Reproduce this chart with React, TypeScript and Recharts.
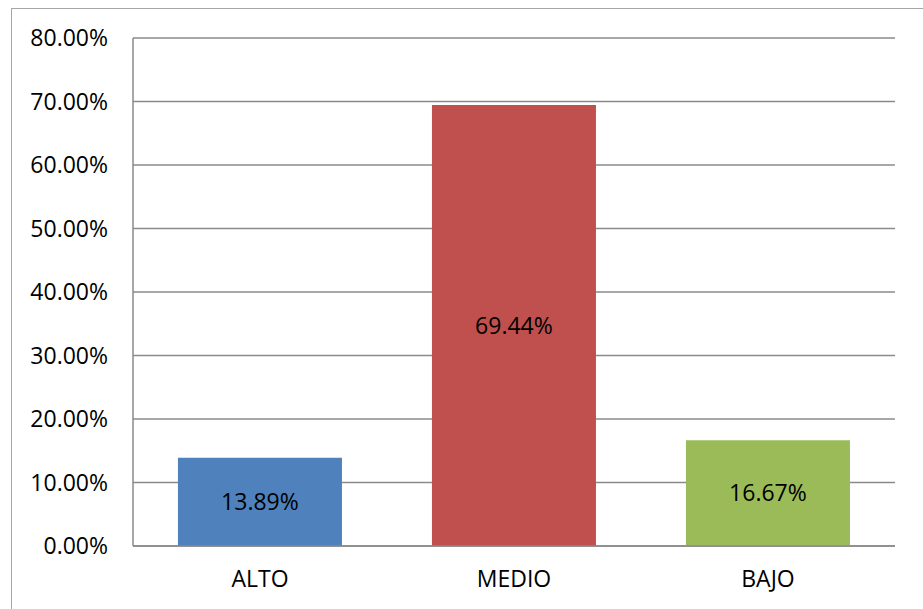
import React from 'react';
import { BarChart, Bar, XAxis, YAxis, CartesianGrid, Cell, LabelList } from 'recharts';

const categories = ['ALTO', 'MEDIO', 'BAJO'];
const values = [13.89, 69.44, 16.67];
const colors = ['#4F81BD', '#C0504D', '#9BBB59'];
const yTicks = [0, 10, 20, 30, 40, 50, 60, 70, 80];

const data = categories.map((name, i) => ({ name, value: values[i] }));

const font = '"Open Sans", "Liberation Sans", sans-serif';
const pct = (v: number) => v.toFixed(2) + '%';

const App: React.FC = () => {
    return (
        <div style={{ position: 'absolute', left: 0, top: 0, width: 923, height: 609, overflow: 'hidden', background: '#fff' }}>
            <div style={{ position: 'absolute', left: 11, top: 8, width: 1000, height: 700, border: '1px solid #a6a6a6' }} />
            <div style={{ position: 'absolute', left: 0, top: 0 }}>
                <BarChart
                    width={923}
                    height={609}
                    data={data}
                    margin={{ top: 38, right: 28, left: 0, bottom: 0 }}
                    barCategoryGap="17.7%"
                >
                    <CartesianGrid vertical={false} stroke="#8a8a8a" strokeWidth={1.5} />
                    <XAxis
                        dataKey="name"
                        height={63}
                        tickLine={false}
                        tickSize={0}
                        tickMargin={25}
                        axisLine={{ stroke: '#8a8a8a', strokeWidth: 1.5 }}
                        tick={{ fill: '#000', fontSize: 23, fontFamily: font }}
                    />
                    <YAxis
                        width={133}
                        domain={[0, 80]}
                        ticks={yTicks}
                        tickFormatter={pct}
                        tickLine={false}
                        tickSize={0}
                        tickMargin={25}
                        axisLine={{ stroke: '#8a8a8a', strokeWidth: 1.5 }}
                        tick={{ fill: '#000', fontSize: 23, fontFamily: font }}
                    />
                    <Bar dataKey="value" isAnimationActive={false}>
                        {data.map((d, i) => (
                            <Cell key={d.name} fill={colors[i]} />
                        ))}
                        <LabelList
                            dataKey="value"
                            position="center"
                            offset={0}
                            formatter={(v: any) => pct(Number(v))}
                            style={{ fill: '#000', fontSize: 23, fontFamily: font }}
                        />
                    </Bar>
                </BarChart>
            </div>
        </div>
    );
};

export default App;
